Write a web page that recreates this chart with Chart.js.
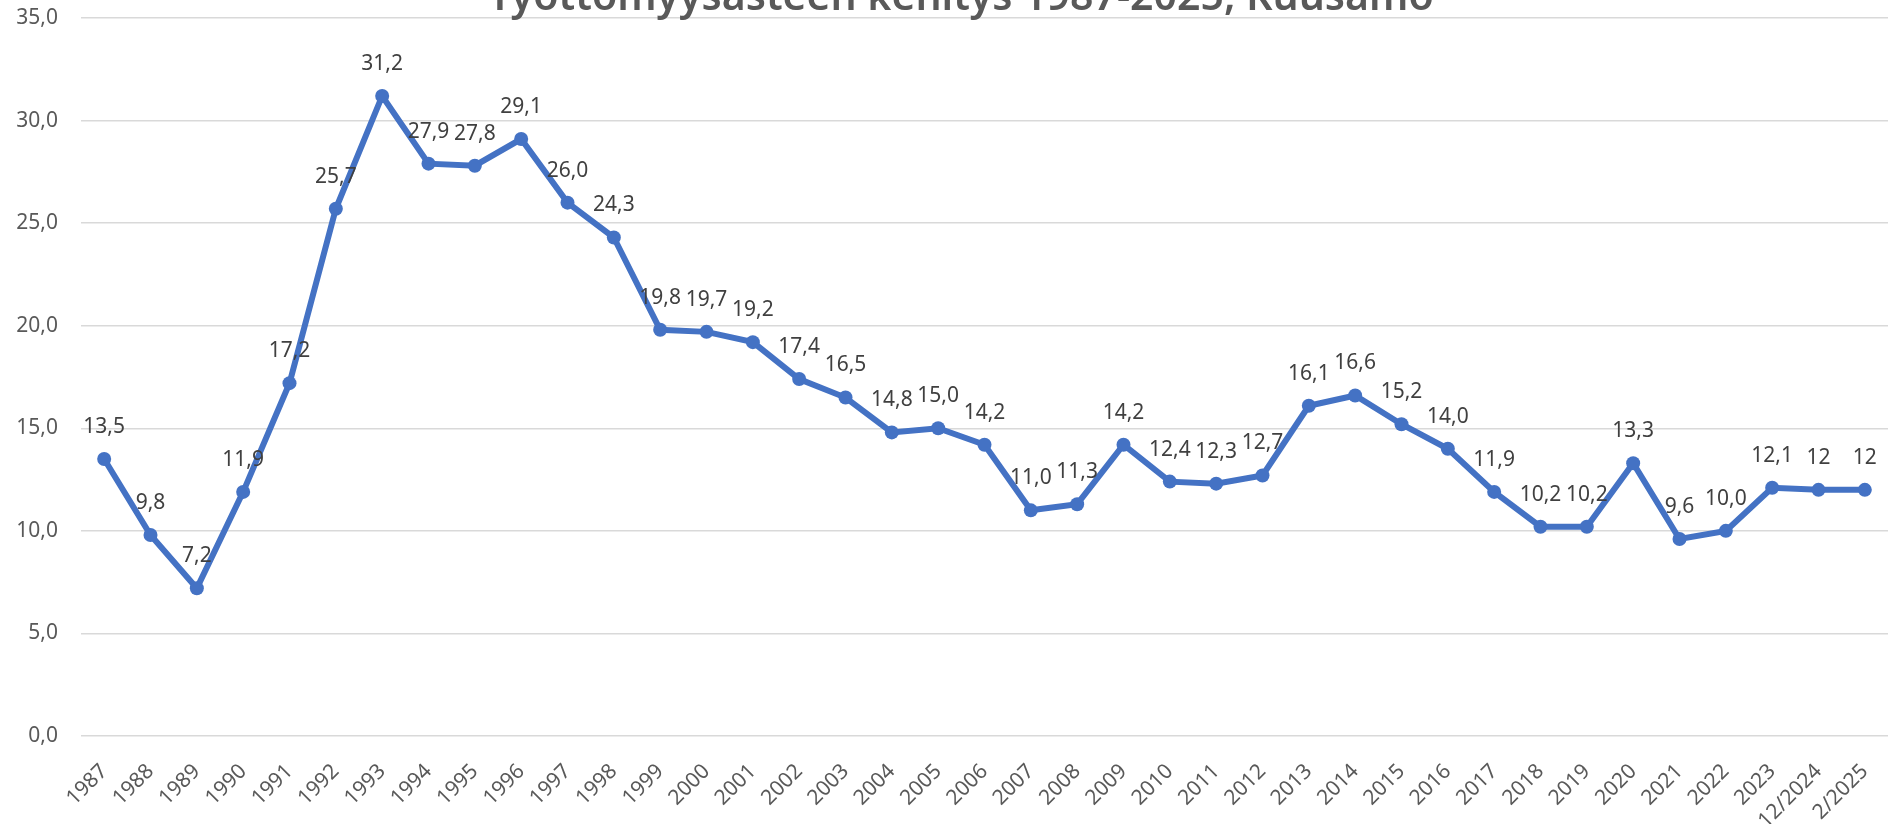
<!DOCTYPE html>
<html lang="fi">
<head>
<meta charset="UTF-8">
<title>Työttömyysasteen kehitys 1987-2025, Kuusamo</title>
<script src="https://cdn.jsdelivr.net/npm/chart.js"></script>
<style>
  html, body { margin: 0; padding: 0; background: #fff; }
  #wrap { width: 1895px; height: 824px; position: relative; }
</style>
</head>
<body>
<div id="wrap"><canvas id="chart"></canvas></div>
<script>
// Tiedot kuvasta luettuna
const chartTitle = 'Työttömyysasteen kehitys 1987-2025, Kuusamo';
const categories = ['1987', '1988', '1989', '1990', '1991', '1992', '1993', '1994', '1995', '1996',
  '1997', '1998', '1999', '2000', '2001', '2002', '2003', '2004', '2005', '2006',
  '2007', '2008', '2009', '2010', '2011', '2012', '2013', '2014', '2015', '2016',
  '2017', '2018', '2019', '2020', '2021', '2022', '2023', '12/2024', '2/2025'];
const rates = [13.5, 9.8, 7.2, 11.9, 17.2, 25.7, 31.2, 27.9, 27.8, 29.1,
  26.0, 24.3, 19.8, 19.7, 19.2, 17.4, 16.5, 14.8, 15.0, 14.2,
  11.0, 11.3, 14.2, 12.4, 12.3, 12.7, 16.1, 16.6, 15.2, 14.0,
  11.9, 10.2, 10.2, 13.3, 9.6, 10.0, 12.1, 12, 12];
// Arvotekstit sellaisenaan (kaksi viimeistä ilman desimaalia)
const pointLabels = ['13,5', '9,8', '7,2', '11,9', '17,2', '25,7', '31,2', '27,9', '27,8', '29,1',
  '26,0', '24,3', '19,8', '19,7', '19,2', '17,4', '16,5', '14,8', '15,0', '14,2',
  '11,0', '11,3', '14,2', '12,4', '12,3', '12,7', '16,1', '16,6', '15,2', '14,0',
  '11,9', '10,2', '10,2', '13,3', '9,6', '10,0', '12,1', '12', '12'];
const yMin = 0;
const yMax = 35;
const yStep = 5;

const fontFamily = '"Noto Sans", "Open Sans", sans-serif';

// Otsikko piirretään osittain kuvan yläreunan yli, kuten alkuperäisessä
const titlePlugin = {
    id: 'cutTitle',
    afterDraw(chart) {
        const ctx = chart.ctx;
        ctx.save();
        ctx.font = '600 41px ' + fontFamily;
        ctx.fillStyle = '#595959';
        ctx.textAlign = 'center';
        ctx.textBaseline = 'alphabetic';
        ctx.fillText(chartTitle, 961, 10);
        ctx.restore();
    }
};

// Arvot pisteiden yläpuolelle
const valueLabelPlugin = {
    id: 'valueLabels',
    afterDatasetsDraw(chart) {
        const ctx = chart.ctx;
        const meta = chart.getDatasetMeta(0);
        ctx.save();
        ctx.font = '21px ' + fontFamily;
        ctx.fillStyle = '#404040';
        ctx.textAlign = 'center';
        ctx.textBaseline = 'middle';
        meta.data.forEach((pt, i) => {
            ctx.fillText(pointLabels[i], pt.x, pt.y - 32);
        });
        ctx.restore();
    }
};

const ctx = document.getElementById('chart').getContext('2d');
new Chart(ctx, {
    type: 'line',
    data: {
        labels: categories,
        datasets: [{
            label: 'Työttömyysaste',
            data: rates,
            borderColor: '#4472C4',
            backgroundColor: '#4472C4',
            borderWidth: 6,
            pointRadius: 7,
            pointHoverRadius: 7,
            pointBackgroundColor: '#4472C4',
            pointBorderWidth: 0,
            tension: 0,
            fill: false
        }]
    },
    options: {
        responsive: true,
        maintainAspectRatio: false,
        animation: false,
        layout: { padding: { top: 18, right: 0, left: 0, bottom: 0 } },
        plugins: {
            legend: { display: false },
            title: { display: false },
            tooltip: { enabled: false }
        },
        scales: {
            x: {
                offset: true,
                grid: { display: false, drawTicks: false },
                border: { display: false },
                ticks: {
                    color: '#595959',
                    font: { family: fontFamily, size: 21 },
                    minRotation: 45,
                    maxRotation: 45,
                    autoSkip: false,
                    padding: 23
                },
                afterFit(scale) {
                    scale.height = 88;
                    scale.paddingLeft = 0;
                    scale.paddingRight = 0;
                }
            },
            y: {
                min: yMin,
                max: yMax,
                grid: { color: '#d9d9d9', lineWidth: 1.5, drawTicks: false },
                border: { display: false },
                ticks: {
                    stepSize: yStep,
                    color: '#595959',
                    font: { family: fontFamily, size: 21 },
                    padding: 23,
                    callback: v => v.toFixed(1).replace('.', ',')
                },
                afterFit(scale) {
                    scale.width = 81;
                    scale.paddingTop = 0;
                    scale.paddingBottom = 0;
                }
            }
        }
    },
    plugins: [valueLabelPlugin, titlePlugin]
});
</script>
</body>
</html>
